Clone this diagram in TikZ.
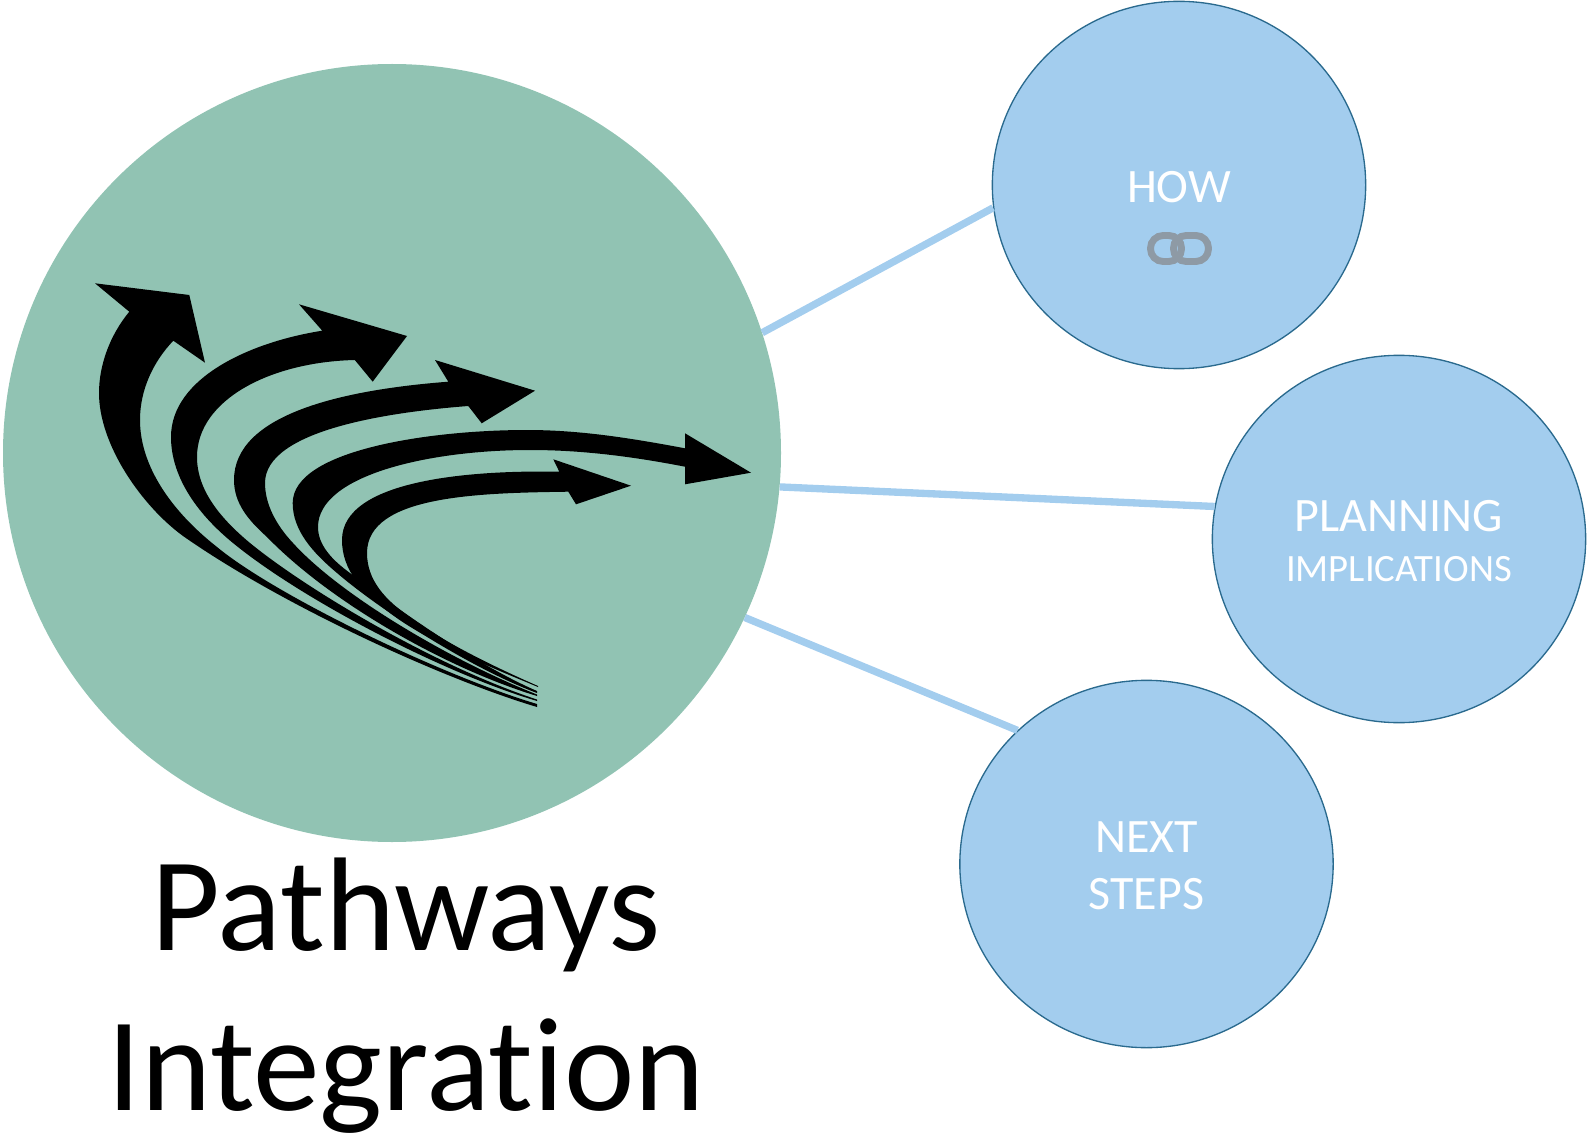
\documentclass[tikz,border=0pt]{standalone}
\usepackage{fontspec}
\setmainfont[Ligatures={NoCommon}]{Carlito}
\usepackage{xcolor}
\usetikzlibrary{positioning, shapes.geometric}
\definecolor{pathgreen}{HTML}{91C3B3}
\definecolor{stepblue}{HTML}{A3CDEE}
\definecolor{stepedge}{HTML}{2A6A8E}
\definecolor{chaingrey}{HTML}{8E9AA5}
\newcommand{\nudge}[1]{\raisebox{-1.5pt}[\height][\depth]{#1}}

\begin{document}
\begin{tikzpicture}[x=0.75pt, y=-0.75pt]

	% Styles
	\tikzset{
		mainball/.style={
			circle, fill=pathgreen, inner sep=0pt, minimum size=583.5pt
		},
		stepball/.style={
			ellipse, draw=stepedge, line width=1pt, fill=stepblue, inner sep=0pt,
			minimum width=280pt, minimum height=275.5pt, align=center, text=white,
			font=\fontsize{36}{43}\selectfont
		},
		link/.style={line width=5.5pt, stepblue},
		chainlink/.style={line width=5.2pt, chaingrey, rounded corners=9.5pt},
		sweep/.style={fill=black}
	}

	\useasboundingbox (0,0) rectangle (1588,1134);

	% Circles
	\node (main) [mainball] at (392,453) {};
	\node (how) [stepball] at (1179,185) {\nudge{HOW}};
	\node (planning) [stepball] at (1399,539) {\nudge{PLANNING}\\[-6pt]\nudge{\fontsize{29}{30}\selectfont IMPLICATIONS}};
	\node (next) [stepball] at (1146.5,864) {\nudge{NEXT}\\\nudge{STEPS}};

	% Title
	\node (title) [align=center, font=\fontsize{100}{120}\selectfont] at (406,996) {Pathways\\Integration};

	% Connectors
	\draw[link] (main.18.5) -- (how.187);
	\draw[link] (main.-5) -- (planning.170);
	\draw[link] (main.-25.8) -- (next.134.6);

	% Chain icon
	\draw[chainlink] (1150.5,235.5) rectangle (1181.5,261.5);
	\draw[chainlink] (1173.5,235.5) rectangle (1208.5,261.5);

	% Arrows
	\fill[sweep] (129.3,311.7) -- (95,283.3) -- (189.3,295) -- (205,362.7) -- (173.3,340.7)
		.. controls (153,362) and (140,390) .. (140,420)
		.. controls (140,465) and (170,510) .. (217,547)
		.. controls (275,595) and (440,675) .. (537,704)
		-- (537,707)
		.. controls (440,678) and (280,604) .. (183,536)
		.. controls (142,506) and (99,445) .. (99,393)
		.. controls (99,365) and (110,335) .. (129.3,311.7) -- cycle;
	\fill[sweep] (322.3,330.7) -- (299,304.3) -- (407,336) -- (372.7,381.7) -- (354.8,360)
		.. controls (270,362) and (197,400) .. (197,457)
		.. controls (197,490) and (220,518) .. (250,543)
		.. controls (310,592) and (440,668) .. (537,699.5)
		-- (537,701)
		.. controls (440,672) and (300,598) .. (233,543)
		.. controls (195,512) and (171,475) .. (171,437)
		.. controls (171,378) and (250,342) .. (322.3,330.7) -- cycle;
	\fill[sweep] (448.3,381.7) -- (435,360) -- (535,390.7) -- (481.7,423.3) -- (468.3,406)
		.. controls (390,412) and (265,430) .. (265,483)
		.. controls (265,505) and (277,526) .. (293,543)
		.. controls (340,595) and (450,660) .. (537,694.5)
		-- (537,696)
		.. controls (445,668) and (330,602) .. (267,537)
		.. controls (248,520) and (234,503) .. (234,480)
		.. controls (234,415) and (340,390) .. (448.3,381.7) -- cycle;
	\fill[sweep] (685,448.3) -- (685,433.3) -- (751,472.7) -- (685,484.3) -- (685,466.7)
		.. controls (630,456) and (580,450) .. (530,450)
		.. controls (430,450) and (318,475) .. (318,527)
		.. controls (318,545) and (332,560) .. (350,573)
		.. controls (385,600) and (470,662) .. (537,691)
		-- (537,693)
		.. controls (470,668) and (380,610) .. (337,573)
		.. controls (312,552) and (292.7,530) .. (292.7,503)
		.. controls (292.7,450) and (430,430) .. (527,430)
		.. controls (580,430) and (630,438) .. (685,448.3) -- cycle;
	\fill[sweep] (559.3,471.7) -- (553.3,459.3) -- (631,485.7) -- (576,504.3) -- (568.3,491.7)
		.. controls (480,493) and (367,495) .. (367,553)
		.. controls (367,580) and (385,600) .. (410,617)
		.. controls (440,640) and (490,665) .. (538,686)
		-- (538,687)
		.. controls (485,665) and (425,640) .. (390,613)
		.. controls (362,592) and (342,570) .. (342,540)
		.. controls (342,480) and (470,470) .. (559.3,471.7) -- cycle;

\end{tikzpicture}
\end{document}
